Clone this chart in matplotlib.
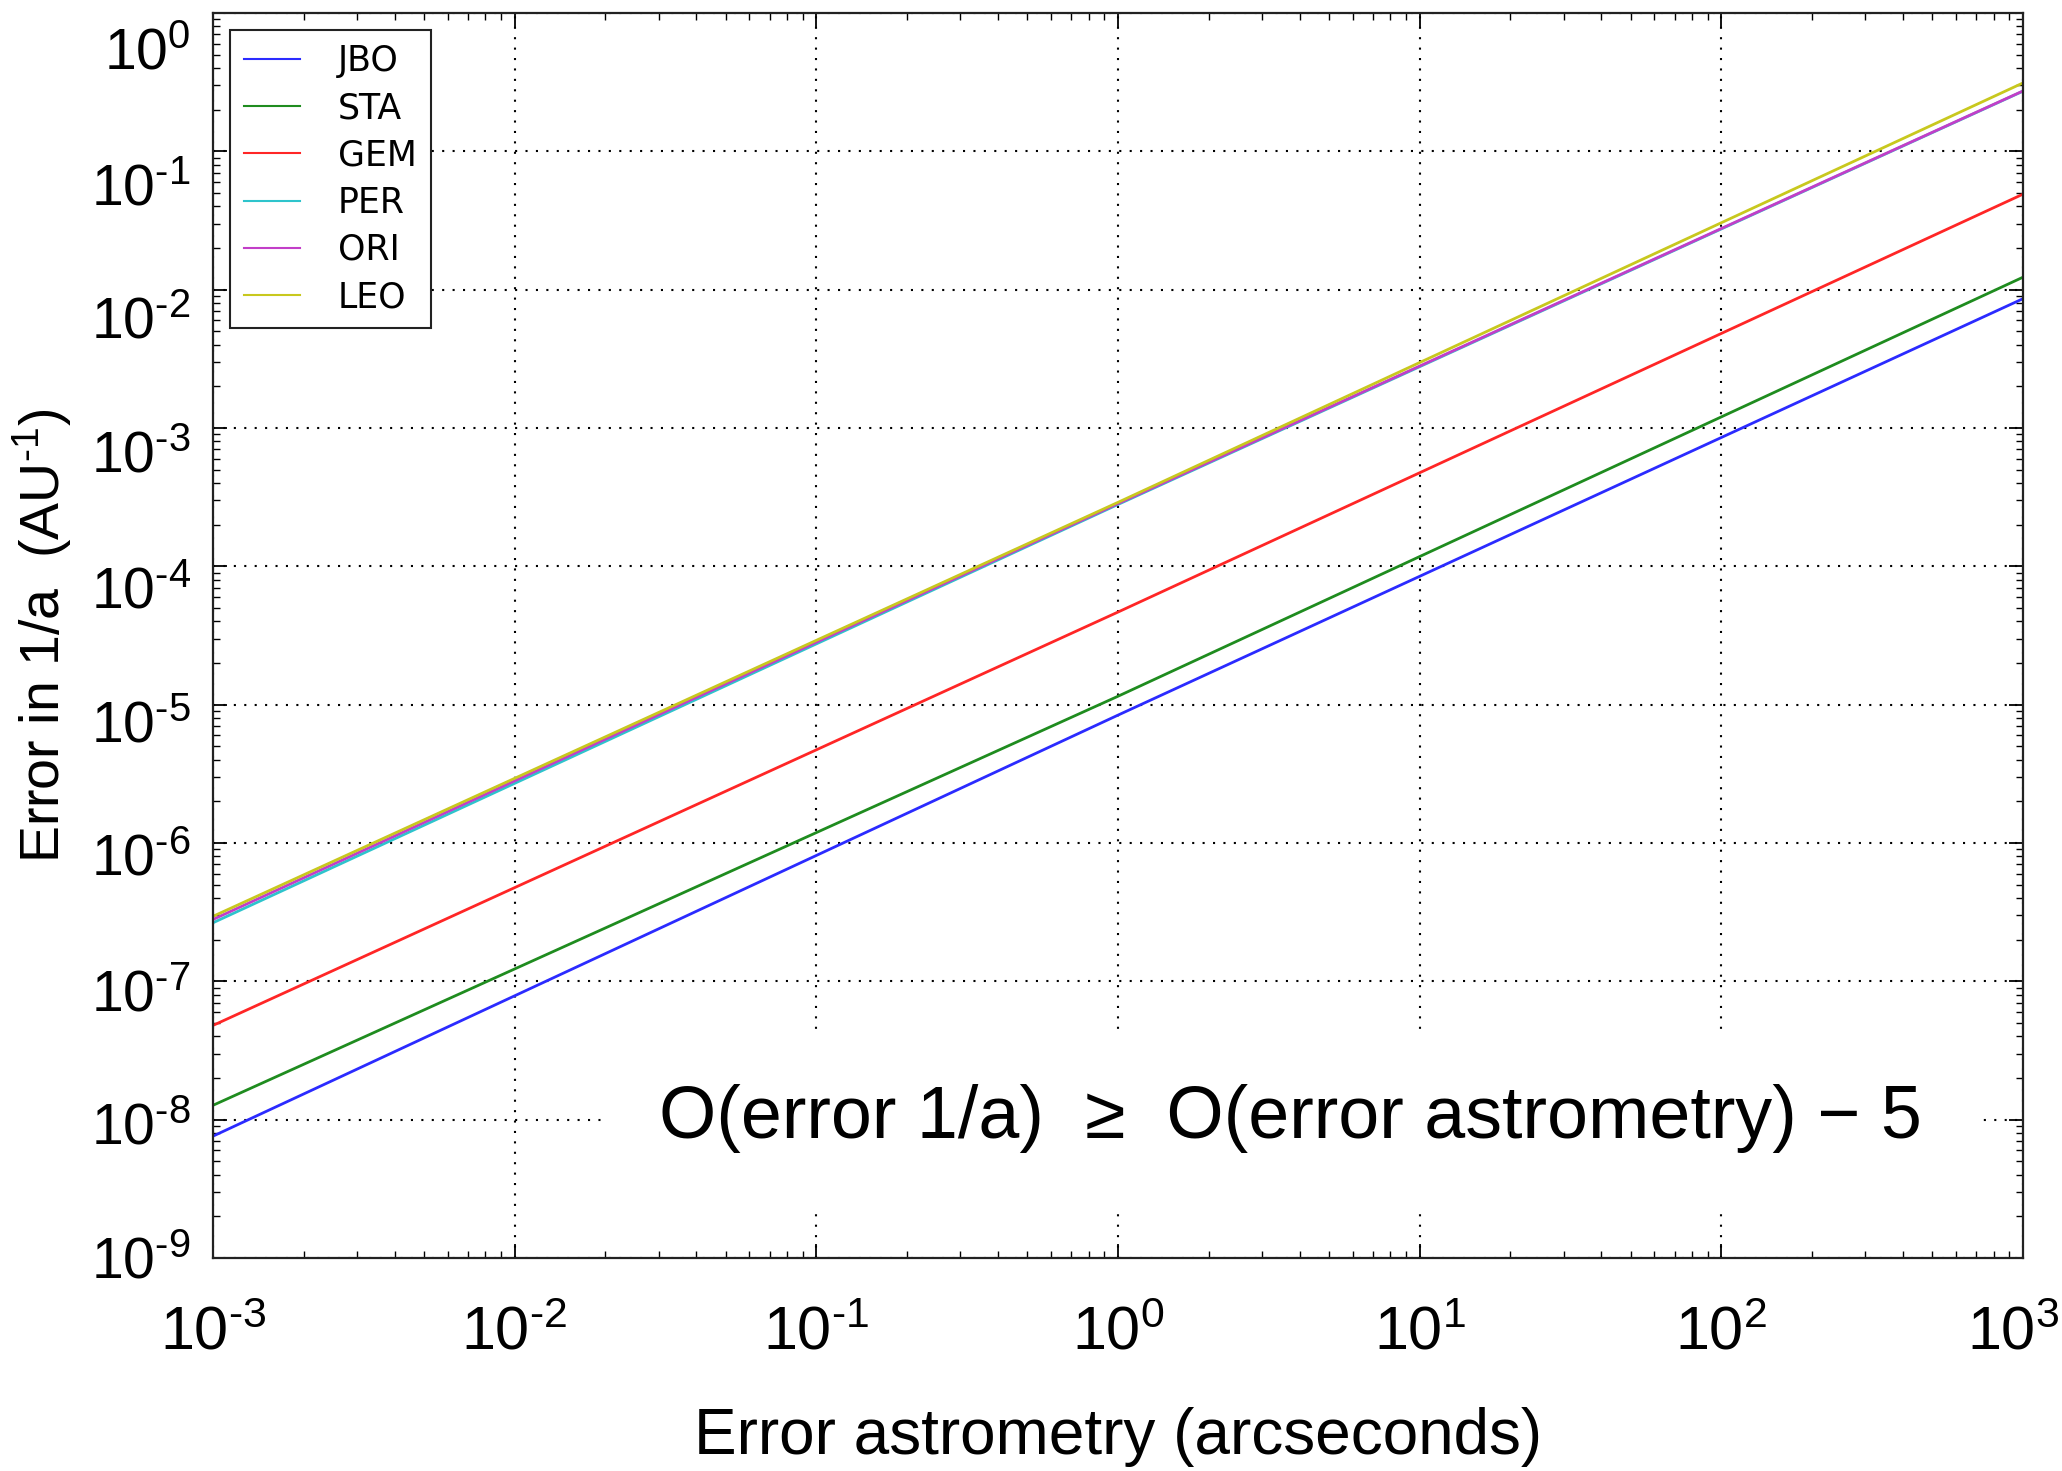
import matplotlib
matplotlib.use("Agg")
import matplotlib.pyplot as plt
import matplotlib.transforms as mtransforms
import numpy as np

# error in astrometry (arcsec) where the curves were read
x_vals = [1e-3, 1e0, 1e3]

# error in 1/a (AU^-1) for each shower
jbo = [7.6e-9, 8.4e-6, 8.6e-3]
sta = [1.27e-8, 1.15e-5, 1.23e-2]
gem = [4.8e-8, 4.67e-5, 4.9e-2]
per = [2.65e-7, 2.8e-4, 2.72e-1]
ori = [2.8e-7, 2.84e-4, 2.73e-1]
leo = [2.95e-7, 2.9e-4, 3.12e-1]

labels = ['JBO', 'STA', 'GEM', 'PER', 'ORI', 'LEO']
series = [jbo, sta, gem, per, ori, leo]
colors = ['#2b2bff', '#1f8c1f', '#ff2626', '#2ec4cc', '#c23ec8', '#c8c81e']

x_exp = list(range(-3, 4))
y_exp = list(range(-9, 1))

sans = 'Liberation Sans'
plt.rcParams['mathtext.fontset'] = 'custom'
plt.rcParams['mathtext.rm'] = sans
plt.rcParams['mathtext.it'] = sans
plt.rcParams['mathtext.default'] = 'regular'


def pow_label(k):
    if k < 0:
        return r'$10^{\text{-}%d}$' % (-k)
    return r'$10^{%d}$' % k


fig = plt.figure(figsize=(20.62, 14.71), dpi=100)
ax = fig.add_axes([0.1033, 0.1448, 0.8778, 0.8464])

for vals, lab, col in zip(series, labels, colors):
    ax.plot(x_vals, vals, color=col, lw=2, label=lab)

ax.set_xscale('log')
ax.set_yscale('log')
ax.set_xlim(1e-3, 1e3)
ax.set_ylim(1e-9, 1e0)

ax.grid(True, which='major', color='black', linestyle=(0, (1, 4)), lw=1.5)

ax.tick_params(which='both', direction='in', top=True, right=True)
ax.tick_params(which='major', length=10, width=1.3)
ax.tick_params(which='minor', length=5, width=1)
for s in ax.spines.values():
    s.set_linewidth(1.6)
    s.set_color('#222222')

ax.set_xticks([10.0**k for k in x_exp])
ax.set_xticklabels([pow_label(k) for k in x_exp], fontsize=44, family=sans)
ax.set_yticks([10.0**k for k in y_exp])
ax.set_yticklabels([pow_label(k) for k in y_exp], fontsize=41, family=sans)
ax.tick_params(axis='x', pad=34)
ax.tick_params(axis='y', pad=16)

# the y labels in the reference sit a little below their ticks, more so at the top
for k, lbl in zip(y_exp, ax.get_yticklabels()):
    dy = (36 + 4 * k) / 100.0
    lbl.set_transform(lbl.get_transform() + mtransforms.ScaledTranslation(0, -dy, fig.dpi_scale_trans))
# keep the last x label inside the canvas
last = ax.get_xticklabels()[-1]
last.set_transform(last.get_transform() + mtransforms.ScaledTranslation(-0.1, 0, fig.dpi_scale_trans))

ax.set_xlabel('Error astrometry (arcseconds)', fontsize=46, family=sans)
ax.xaxis.set_label_coords(0.5, -0.144)
ax.xaxis.label.set_va('center')
ax.set_ylabel('Error in 1/a  (AU$^{\\text{-}1}$)', fontsize=40, family=sans, labelpad=12)

ax.text(0.595, 0.112, 'O(error 1/a)  ≥  O(error astrometry) − 5',
        transform=ax.transAxes, ha='center', va='center', fontsize=53,
        family=[sans, 'DejaVu Sans'],
        bbox=dict(boxstyle='square,pad=0.75', facecolor='white', edgecolor='none'))

leg = ax.legend(loc='upper left', fontsize=25, handlelength=1.6, handletextpad=1.1,
                fancybox=False, framealpha=1, borderaxespad=0.5, labelspacing=0.38)
leg.get_frame().set_edgecolor('#222222')
leg.get_frame().set_linewidth(1.5)
for line in leg.get_lines():
    line.set_linewidth(1.5)

fig.savefig('out.png', dpi=100)
